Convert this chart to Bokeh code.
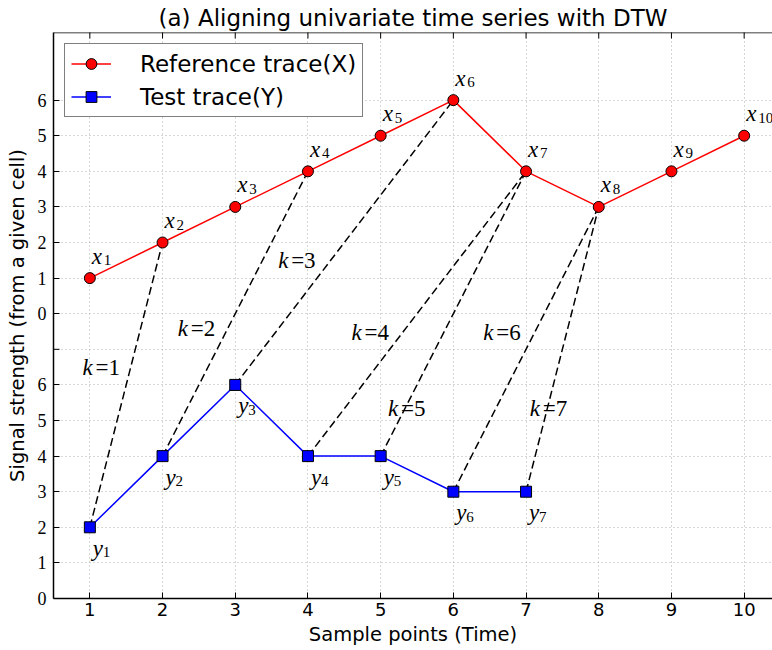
import math
from bokeh.plotting import figure
from bokeh.models import (ColumnDataSource, FixedTicker, Range1d, Span,
                          Legend, LegendItem)
from bokeh.core.properties import value
from bokeh.embed import file_html
from bokeh.resources import INLINE

# ---- data ----
time_ref = [1, 2, 3, 4, 5, 6, 7, 8, 9, 10]
ref_values = [1, 2, 3, 4, 5, 6, 4, 3, 4, 5]
time_test = [1, 2, 3, 4, 5, 6, 7]
test_values = [2, 4, 6, 4, 4, 3, 3]
ref_shift = 8  # reference trace drawn above the test trace

# warping path: test index -> reference index
warp_test_idx = [1, 2, 3, 4, 5, 6, 7]
warp_ref_idx = [2, 4, 6, 7, 7, 8, 8]
k_numbers = ["1", "2", "3", "4", "5", "6", "7"]
k_label_x = [0.9, 2.21, 3.59, 4.6, 5.1, 6.41, 7.05]
k_label_y = [6.3, 7.4, 9.3, 7.28, 5.15, 7.28, 5.15]

ref_subs = [str(i) for i in time_ref]
test_subs = [str(i) for i in time_test]

x_ticks = [1, 2, 3, 4, 5, 6, 7, 8, 9, 10]
y_axis_ticks = [0, 1, 2, 3, 4, 5, 6, 8, 9, 10, 11, 12, 13, 14]
y_axis_labels = ["0", "1", "2", "3", "4", "5", "6",
                 "0", "1", "2", "3", "4", "5", "6"]
y_grid_ticks = list(range(15))
y_blank_ticks = [7]

X_MIN, X_MAX = 0.5, 10.39
Y_MIN, Y_MAX = 0, 15.9

ref_y = [v + ref_shift for v in ref_values]

p = figure(width=772, height=650, output_backend="svg", toolbar_location=None,
           x_range=Range1d(X_MIN, X_MAX), y_range=Range1d(Y_MIN, Y_MAX),
           min_border_left=53, min_border_right=0, min_border_top=31,
           min_border_bottom=52)

p.title.text = "(a) Aligning univariate time series with DTW"
p.title.text_font = "DejaVu Sans"
p.title.text_font_size = "23px"
p.title.text_font_style = "normal"
p.title.text_color = "black"
p.title.align = "center"
p.title.offset = 4
p.title.standoff = 4

p.outline_line_color = None
p.background_fill_color = "white"
p.border_fill_color = "white"

# axes
p.xaxis.ticker = FixedTicker(ticks=x_ticks)
p.yaxis.ticker = FixedTicker(ticks=y_axis_ticks)
p.yaxis.major_label_overrides = {t: l for t, l in zip(y_axis_ticks, y_axis_labels)}
p.xaxis.axis_label = "Sample points (Time)"
p.yaxis.axis_label = "Signal strength (from a given cell)"
for ax in (p.xaxis[0], p.yaxis[0]):
    ax.axis_line_color = "black"
    ax.axis_line_width = 1.5
    ax.major_tick_in = 6
    ax.major_tick_out = 0
    ax.minor_tick_line_color = None
    ax.major_tick_line_color = "black"
    ax.major_tick_line_width = 1
    ax.axis_label_text_font = "DejaVu Sans"
    ax.axis_label_text_font_size = "19.5px"
    ax.axis_label_text_font_style = "normal"
    ax.axis_label_text_color = "black"
    ax.major_label_text_color = "black"
p.xaxis.major_label_text_font = "DejaVu Sans"
p.xaxis.major_label_text_font_size = "18px"
p.xaxis.major_label_standoff = 4
p.xaxis.axis_label_standoff = 4
p.yaxis.major_label_text_font = "Liberation Serif"
p.yaxis.major_label_text_font_size = "18px"
p.yaxis.major_label_standoff = 7
p.yaxis.axis_label_standoff = 6

# top spine and inward ticks on the top edge, blank tick at 7 on the left
p.add_layout(Span(location=Y_MAX, dimension="width", line_color="black",
                  line_width=1.5))
p.scatter(x=x_ticks, y=[Y_MAX] * len(x_ticks), marker="dash", angle=math.pi / 2,
          size=12, line_color="black", line_width=1)
p.scatter(x=[X_MIN] * len(y_blank_ticks), y=y_blank_ticks, marker="dash",
          size=12, line_color="black", line_width=1)

p.xgrid.ticker = FixedTicker(ticks=x_ticks)
p.ygrid.ticker = FixedTicker(ticks=y_grid_ticks)
for g in (p.xgrid[0], p.ygrid[0]):
    g.grid_line_color = "#b0b0b0"
    g.grid_line_width = 1
    g.grid_line_dash = "1 3"

# warping path lines
seg = ColumnDataSource(dict(
    x0=warp_test_idx,
    y0=[test_values[i - 1] for i in warp_test_idx],
    x1=warp_ref_idx,
    y1=[ref_values[i - 1] + ref_shift for i in warp_ref_idx],
))
p.segment("x0", "y0", "x1", "y1", source=seg, line_color="black",
          line_width=1.5, line_dash="8 4")

# traces
ref_line = p.line(time_ref, ref_y, line_color="red", line_width=1.5)
ref_pts = p.scatter(time_ref, ref_y, marker="circle", size=11,
                    fill_color="red", line_color="black", line_width=1)
test_line = p.line(time_test, test_values, line_color="blue", line_width=1.5)
test_pts = p.scatter(time_test, test_values, marker="square", size=11,
                     fill_color="blue", line_color="black", line_width=1)

# point labels (math-style)
serif = value("Liberation Serif")
p.text(x=time_ref, y=ref_y, text=["x"] * len(time_ref), text_font=serif,
       text_font_style="italic", text_font_size="23px", x_offset=2,
       y_offset=-22, text_baseline="alphabetic", text_color="black")
p.text(x=time_ref, y=ref_y, text=ref_subs, text_font=serif,
       text_font_size="15px", x_offset=14, y_offset=-18,
       text_baseline="alphabetic", text_color="black")
p.text(x=time_test, y=test_values, text=["y"] * len(time_test), text_font=serif,
       text_font_style="italic", text_font_size="23px", x_offset=3,
       y_offset=21, text_baseline="alphabetic", text_color="black")
p.text(x=time_test, y=test_values, text=test_subs, text_font=serif,
       text_font_size="15px", x_offset=13, y_offset=25,
       text_baseline="alphabetic", text_color="black")

# k labels
p.text(x=k_label_x, y=k_label_y, text=["k"] * len(k_numbers), text_font=serif,
       text_font_style="italic", text_font_size="23px", y_offset=-7,
       text_baseline="alphabetic", text_color="black")
p.text(x=k_label_x, y=k_label_y, text=["=" + k for k in k_numbers],
       text_font=serif, text_font_size="23px", x_offset=13, y_offset=-7,
       text_baseline="alphabetic", text_color="black")

legend = Legend(items=[
    LegendItem(label="Reference trace(X)", renderers=[ref_line, ref_pts]),
    LegendItem(label="Test trace(Y)", renderers=[test_line, test_pts]),
], location="top_left")
legend.margin = 11
legend.padding = 6
legend.spacing = 6
legend.glyph_width = 40
legend.glyph_height = 27
legend.label_height = 27
legend.label_standoff = 29
legend.label_text_font = "DejaVu Sans"
legend.label_text_font_size = "23px"
legend.label_text_color = "black"
legend.border_line_color = "black"
legend.border_line_width = 1.5
legend.background_fill_color = "white"
legend.background_fill_alpha = 1
p.add_layout(legend)

open("out.html", "w").write(file_html(p, INLINE))
